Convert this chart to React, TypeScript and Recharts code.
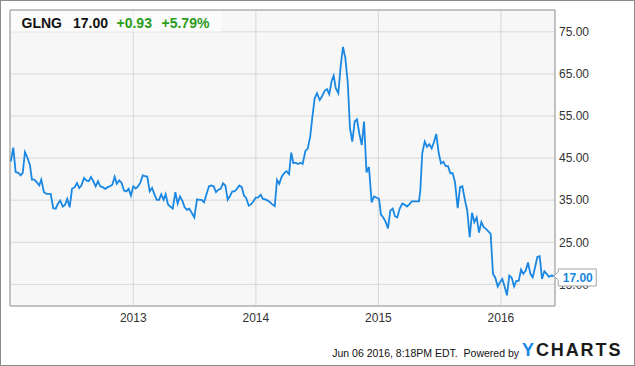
import React from 'react';
import { LineChart, Line, XAxis, YAxis, CartesianGrid, ReferenceDot, ReferenceArea } from 'recharts';

const FONT = "'Liberation Sans', Arial, Helvetica, sans-serif";

// decimal-year dates (weekly closes)
const dates = [
  2012.000, 2012.021, 2012.040, 2012.062, 2012.081, 2012.098, 2012.116, 2012.135, 2012.157, 2012.173,
  2012.192, 2012.212, 2012.233, 2012.249, 2012.271, 2012.293, 2012.326, 2012.347, 2012.367, 2012.386,
  2012.404, 2012.424, 2012.443, 2012.461, 2012.481, 2012.500, 2012.522, 2012.541, 2012.559, 2012.576,
  2012.598, 2012.617, 2012.636, 2012.655, 2012.674, 2012.693, 2012.712, 2012.731, 2012.750, 2012.772,
  2012.791, 2012.810, 2012.829, 2012.848, 2012.865, 2012.886, 2012.905, 2012.924, 2012.943, 2012.962,
  2012.981, 2013.000, 2013.020, 2013.038, 2013.057, 2013.077, 2013.095, 2013.114, 2013.134, 2013.153,
  2013.171, 2013.191, 2013.210, 2013.228, 2013.248, 2013.264, 2013.283, 2013.302, 2013.322, 2013.343,
  2013.362, 2013.381, 2013.400, 2013.419, 2013.438, 2013.457, 2013.479, 2013.498, 2013.520, 2013.539,
  2013.558, 2013.577, 2013.596, 2013.618, 2013.637, 2013.656, 2013.675, 2013.694, 2013.713, 2013.732,
  2013.751, 2013.770, 2013.789, 2013.808, 2013.827, 2013.846, 2013.865, 2013.885, 2013.903, 2013.922,
  2013.942, 2013.960, 2013.979, 2013.999, 2014.018, 2014.040, 2014.058, 2014.077, 2014.097, 2014.116,
  2014.134, 2014.154, 2014.173, 2014.191, 2014.211, 2014.230, 2014.250, 2014.271, 2014.289, 2014.306,
  2014.325, 2014.344, 2014.363, 2014.382, 2014.404, 2014.423, 2014.444, 2014.462, 2014.480, 2014.499,
  2014.521, 2014.540, 2014.562, 2014.581, 2014.599, 2014.619, 2014.635, 2014.652, 2014.673, 2014.692,
  2014.711, 2014.730, 2014.750, 2014.768, 2014.787, 2014.807, 2014.825, 2014.844, 2014.864, 2014.883,
  2014.903, 2014.923, 2014.945, 2014.964, 2014.986, 2015.005, 2015.021, 2015.040, 2015.060, 2015.078,
  2015.097, 2015.117, 2015.135, 2015.154, 2015.174, 2015.195, 2015.215, 2015.233, 2015.252, 2015.272,
  2015.291, 2015.313, 2015.331, 2015.342, 2015.358, 2015.378, 2015.397, 2015.415, 2015.435, 2015.454,
  2015.472, 2015.492, 2015.511, 2015.530, 2015.549, 2015.568, 2015.587, 2015.606, 2015.625, 2015.647,
  2015.666, 2015.685, 2015.707, 2015.725, 2015.745, 2015.764, 2015.783, 2015.802, 2015.821, 2015.840,
  2015.859, 2015.878, 2015.897, 2015.916, 2015.935, 2015.954, 2015.974, 2015.992, 2016.011, 2016.031,
  2016.049, 2016.068, 2016.088, 2016.107, 2016.125, 2016.145, 2016.164, 2016.182, 2016.202, 2016.221,
  2016.240, 2016.259, 2016.278, 2016.297, 2016.316, 2016.335, 2016.354, 2016.373, 2016.392, 2016.411,
  2016.431,
];

const prices = [
  44.2, 47.5, 41.7, 41.5, 40.9, 41.5, 46.4, 45.2, 43.3, 39.9,
  39.9, 39.3, 38.5, 39.9, 36.9, 36.5, 36.5, 33.1, 33.0, 34.2,
  34.9, 33.5, 33.9, 35.3, 33.3, 37.7, 38.1, 39.1, 37.9, 38.5,
  40.3, 39.7, 39.5, 40.5, 39.5, 38.3, 39.5, 38.3, 38.1, 37.7,
  38.1, 38.3, 38.7, 40.6, 38.9, 39.7, 39.1, 37.3, 37.1, 37.7,
  36.1, 38.3, 37.8, 38.3, 39.1, 40.9, 40.7, 40.6, 37.1, 37.9,
  36.5, 35.1, 35.1, 36.4, 35.1, 36.4, 34.0, 33.5, 33.0, 36.9,
  34.2, 35.9, 34.9, 33.3, 32.7, 33.0, 31.9, 30.9, 35.2, 35.1,
  35.1, 34.5, 36.3, 38.3, 38.5, 38.3, 36.9, 37.5, 37.7, 39.0,
  38.5, 35.1, 36.0, 37.1, 37.1, 37.7, 38.5, 38.1, 36.1, 35.5,
  33.7, 34.0, 34.7, 35.6, 35.6, 36.3, 35.3, 35.2, 34.9, 34.5,
  34.0, 33.6, 39.8, 38.9, 40.6, 41.4, 41.9, 41.2, 46.3, 43.8,
  43.9, 43.6, 43.9, 43.6, 46.7, 47.2, 50.2, 55.0, 59.2, 60.4,
  58.8, 59.7, 61.0, 61.4, 60.2, 63.4, 64.6, 61.6, 60.4, 66.8,
  71.4, 68.8, 62.9, 52.1, 48.9, 53.7, 54.2, 50.9, 48.1, 53.7,
  41.6, 42.9, 34.5, 35.9, 35.6, 35.3, 31.6, 30.9, 29.8, 28.3,
  32.5, 33.0, 31.2, 30.9, 33.0, 34.2, 33.9, 33.5, 34.0, 34.7,
  34.7, 34.7, 34.7, 37.3, 46.2, 48.9, 47.7, 48.3, 47.3, 48.9,
  50.7, 46.2, 43.7, 44.1, 43.1, 43.1, 41.4, 41.4, 39.3, 33.1,
  38.1, 38.3, 34.9, 32.5, 26.2, 32.0, 29.8, 30.9, 27.3, 29.8,
  28.6, 28.2, 27.6, 27.0, 17.5, 16.6, 14.5, 15.5, 16.3, 14.4,
  12.4, 17.1, 16.6, 14.5, 15.8, 15.9, 18.5, 17.5, 18.3, 20.2,
  17.5, 16.7, 19.0, 21.5, 21.7, 16.3, 18.1, 17.5, 16.8, 17.1,
  17.0,
];

const yearTicks = [2013, 2014, 2015, 2016];
const priceTicks = [15, 25, 35, 45, 55, 65, 75];
const xDomain = [2011.994, 2016.441];
const yDomain = [9.87, 80.18];

const ticker = 'GLNG';
const lastPrice = '17.00';
const change = '+0.93';
const changePct = '+5.79%';
const stamp = 'Jun 06 2016, 8:18PM EDT.  Powered by';

const LINE_COLOR = '#1a88e3';
const MARGIN = { top: 10, right: 0, bottom: 30, left: 10 };

const data = dates.map((t, i) => ({ t, v: prices[i] }));
const last = data[data.length - 1];

const LastTag = (props: any) => {
  const { cx, cy } = props;
  if (cx == null || cy == null) return null;
  const bx = cx + 4.5;
  const top = cy - 7;
  const bot = cy + 10;
  const right = cx + 42.5;
  const d = `M${cx},${cy} L${bx},${cy - 4} L${bx},${top} L${right},${top} L${right},${bot} L${bx},${bot} L${bx},${cy + 4} Z`;
  return (
    <g>
      <path d={d} fill="#ffffff" stroke="#a5a5a5" strokeWidth={1} />
      <text x={bx + 4.5} y={cy + 6} fill={LINE_COLOR} fontSize={12} fontWeight="bold" fontFamily={FONT}>
        {lastPrice}
      </text>
    </g>
  );
};

const axisProps = {
  x: {
    dataKey: 't',
    type: 'number' as const,
    domain: xDomain,
    ticks: yearTicks,
    allowDataOverflow: true,
    axisLine: false,
    tickLine: false,
    tickSize: 0,
    tickMargin: 7,
    height: 30,
  },
  y: {
    orientation: 'right' as const,
    type: 'number' as const,
    domain: yDomain,
    ticks: priceTicks,
    allowDataOverflow: true,
    axisLine: false,
    tickLine: false,
    tickSize: 0,
    tickMargin: 4,
    width: 80,
  },
};

export default function App() {
  return (
    <div style={{ position: 'absolute', left: 0, top: 0, width: 635, height: 366, background: '#fff' }}>
      <LineChart width={635} height={366} data={data} margin={MARGIN}>
        <CartesianGrid stroke="#d7d7d7" fill="#f7f7f7" strokeWidth={1} />
        <ReferenceArea
          x1={xDomain[0]}
          x2={xDomain[1]}
          y1={yDomain[0]}
          y2={yDomain[1]}
          fill="none"
          stroke="#9b9b9b"
          strokeWidth={1}
          ifOverflow="visible"
        />
        <XAxis
          {...axisProps.x}
          tickFormatter={(v: number) => String(v)}
          tick={{ fill: '#333', fontSize: 12, fontFamily: FONT }}
        />
        <YAxis
          {...axisProps.y}
          tickFormatter={(v: number) => v.toFixed(2)}
          tick={{ fill: '#333', fontSize: 12, fontFamily: FONT, textAnchor: 'start' }}
        />
        <Line
          type="linear"
          dataKey="v"
          stroke={LINE_COLOR}
          strokeWidth={1.8}
          dot={false}
          isAnimationActive={false}
        />
      </LineChart>
      {/* top layer: last-price tag, placed with the same scales */}
      <div style={{ position: 'absolute', left: 0, top: 0, pointerEvents: 'none' }}>
        <LineChart width={635} height={366} data={data} margin={MARGIN}>
          <XAxis {...axisProps.x} tick={false} />
          <YAxis {...axisProps.y} tick={false} />
          <ReferenceDot x={last.t} y={last.v} ifOverflow="visible" shape={LastTag} />
        </LineChart>
      </div>
      <svg
        width={635}
        height={366}
        style={{ position: 'absolute', left: 0, top: 0, pointerEvents: 'none' }}
      >
        <rect x={0.5} y={0.5} width={634} height={365} fill="none" stroke="#8c8c8c" strokeWidth={1} />
        <rect x={11} y={11} width={211} height={21} fill="#ffffff" fillOpacity={0.55} />
        <g fontFamily={FONT} fontSize={14} fontWeight="bold">
          <text x={21.5} y={28.3} fill="#111">{ticker}</text>
          <text x={73} y={28.3} fill="#111">{lastPrice}</text>
          <text x={116.5} y={28.3} fill="#2a9d1c">{change}</text>
          <text x={161.5} y={28.3} fill="#2a9d1c">{changePct}</text>
        </g>
        <text x={519} y={357} textAnchor="end" fontFamily={FONT} fontSize={10.5} fill="#111" style={{ whiteSpace: 'pre' }}>
          {stamp}
        </text>
        <text x={522} y={356} fontFamily={FONT} fontSize={18} fontWeight="bold" letterSpacing={1.9}>
          <tspan fill="#1a88e3">Y</tspan>
          <tspan fill="#1a1a1a">CHARTS</tspan>
        </text>
      </svg>
    </div>
  );
}
